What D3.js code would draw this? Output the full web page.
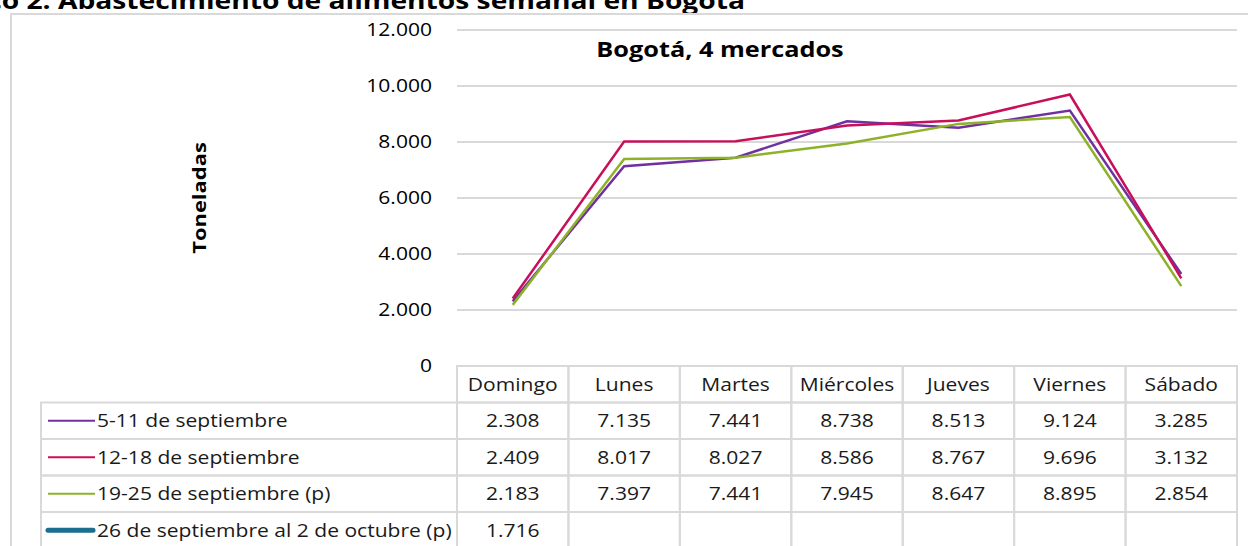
<!DOCTYPE html>
<html><head><meta charset="utf-8">
<script src="https://cdn.jsdelivr.net/npm/d3@7"></script>
<style>
html,body{margin:0;padding:0;background:#fff;}
svg{display:block;font-family:"Open Sans","Noto Sans",sans-serif;}
</style></head>
<body><svg id="c" width="1248" height="546"></svg>
<script>
const categories = ["Domingo","Lunes","Martes","Miércoles","Jueves","Viernes","Sábado"];
const seriesNames = ["5-11 de septiembre","12-18 de septiembre","19-25 de septiembre (p)","26 de septiembre al 2 de octubre (p)"];
const s1 = [2308,7135,7441,8738,8513,9124,3285];
const s2 = [2409,8017,8027,8586,8767,9696,3132];
const s3 = [2183,7397,7441,7945,8647,8895,2854];
const s4 = [1716,null,null,null,null,null,null];
const seriesColors = ["#7030A0","#C8105A","#8DB22A","#1B6E8E"];
const yTicks = [0,2000,4000,6000,8000,10000,12000];
const chartTitle = "Bogotá, 4 mercados";
const pageTitle = "Gráfico 2. Abastecimiento de alimentos semanal en Bogotá";
const yLabel = "Toneladas";

const series = [s1,s2,s3,s4];
const svg = d3.select("#c");
const fmt = v => d3.format(",")(v).replace(/,/g,".");
const SX = 1.17;

function txt(g, x, y, str, o) {
  o = o || {};
  return g.append("text")
    .attr("transform", `translate(${x},${y})${o.rot ? " rotate(" + o.rot + ")" : ""} scale(${o.sx || SX},1)`)
    .attr("text-anchor", o.anchor || "start")
    .attr("dy", o.dy || null)
    .attr("font-size", o.size || 18)
    .attr("font-weight", o.weight || 400)
    .attr("fill", o.fill || "#1a1a1a")
    .text(str);
}

const L = 457, R = 1237, T = 30, B = 366;
const x = d3.scaleBand().domain(categories).range([L,R]).padding(0);
const y = d3.scaleLinear().domain([0,12000]).range([B,T]);

// page title (cropped at top)
txt(svg, 745, 9, pageTitle, {anchor:"end", size:24, weight:700, fill:"#000", sx:1.175});

// outer chart border
svg.append("rect").attr("x",11).attr("y",14).attr("width",1260).attr("height",560)
  .attr("fill","none").attr("stroke","#D9D9D9").attr("stroke-width",2);

// gridlines
svg.append("g").selectAll("line").data(yTicks.filter(d=>d>0)).join("line")
  .attr("x1",L).attr("x2",R).attr("y1",d=>y(d)).attr("y2",d=>y(d))
  .attr("stroke","#D9D9D9").attr("stroke-width",2);

// y axis labels
const yAxis = d3.axisLeft(y).tickValues(yTicks).tickFormat(fmt).tickSize(0).tickPadding(0);
const ya = svg.append("g").attr("transform",`translate(432,0)`).call(yAxis);
ya.select(".domain").remove();
ya.selectAll(".tick text").each(function(){
  const t = d3.select(this);
  t.attr("x",null).attr("transform",`scale(${SX},1)`).attr("text-anchor","end")
   .attr("font-size",18).attr("fill","#000")
   .attr("font-family","'Open Sans','Noto Sans',sans-serif").attr("dy","0.3em");
});

// y title
txt(svg, 206, 198, yLabel, {rot:-90, anchor:"middle", size:18, weight:700, fill:"#000", sx:1.22});

// chart title
txt(svg, 720, 57, chartTitle, {anchor:"middle", size:22, weight:700, fill:"#000", sx:1.15});

// lines
const line = d3.line().defined(d=>d.v!=null).x(d=>x(d.c)+x.bandwidth()/2).y(d=>y(d.v));
series.forEach((s,i)=>{
  const pts = categories.map((c,j)=>({c, v:s[j]}));
  if (pts.filter(d=>d.v!=null).length < 2) return;
  svg.append("path").datum(pts).attr("d",line).attr("fill","none")
    .attr("stroke",seriesColors[i]).attr("stroke-width",2.5).attr("stroke-linejoin","miter");
});

// data table
const rowH = 36.5;
const tableTop = B;
const tLeft = 41;
const gT = svg.append("g");
const gc = "#D9D9D9";
categories.forEach(c=>{
  gT.append("rect").attr("x",x(c)).attr("y",tableTop).attr("width",x.bandwidth()).attr("height",rowH)
    .attr("fill","none").attr("stroke",gc).attr("stroke-width",2);
  txt(gT, x(c)+x.bandwidth()/2, tableTop+rowH/2, c, {anchor:"middle", dy:"0.35em"});
});
series.forEach((s,i)=>{
  const ry = tableTop + rowH*(i+1);
  gT.append("rect").attr("x",tLeft).attr("y",ry).attr("width",L-tLeft).attr("height",rowH)
    .attr("fill","none").attr("stroke",gc).attr("stroke-width",2);
  gT.append("line").attr("x1",48).attr("x2",i===3?93:95).attr("y1",ry+rowH/2).attr("y2",ry+rowH/2)
    .attr("stroke",seriesColors[i]).attr("stroke-width",i===3?5:2).attr("stroke-linecap",i===3?"round":"butt");
  txt(gT, 97, ry+rowH/2, seriesNames[i], {dy:"0.35em"});
  categories.forEach((c,j)=>{
    gT.append("rect").attr("x",x(c)).attr("y",ry).attr("width",x.bandwidth()).attr("height",rowH)
      .attr("fill","none").attr("stroke",gc).attr("stroke-width",2);
    if (s[j]!=null) txt(gT, x(c)+x.bandwidth()/2, ry+rowH/2, fmt(s[j]), {anchor:"middle", dy:"0.35em"});
  });
});
</script></body></html>
